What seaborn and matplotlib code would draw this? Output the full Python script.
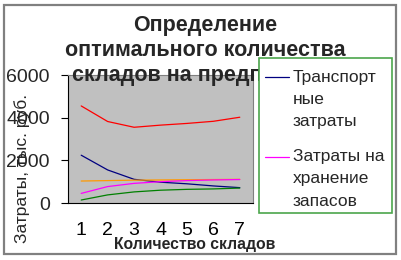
import matplotlib
matplotlib.use("Agg")
import matplotlib.pyplot as plt
from matplotlib.lines import Line2D
from matplotlib.patches import Rectangle
from matplotlib.legend_handler import HandlerLine2D
import numpy as np
import seaborn as sns
import pandas as pd

sns.set_theme(style="white")
plt.rcParams["font.family"] = ["Liberation Sans", "DejaVu Sans"]

# Number of warehouses and cost series (thousand rubles)
warehouses = [1, 2, 3, 4, 5, 6, 7]
total_costs = [4550, 3820, 3550, 3650, 3730, 3830, 4020]
transport_costs = [2240, 1550, 1110, 975, 900, 800, 720]
fixed_costs = [1030, 1050, 1070, 1080, 1090, 1100, 1110]
storage_costs = [450, 770, 920, 1000, 1050, 1080, 1100]
handling_costs = [140, 380, 520, 600, 640, 660, 700]

series_names = {
    "total": "Общие затраты",
    "transport": "Транспортные затраты",
    "fixed": "Постоянные затраты",
    "storage": "Затраты на хранение запасов",
    "handling": "Затраты на обработку",
}
legend_labels = ["Транспорт\nные\nзатраты", "Затраты на\nхранение\nзапасов"]

frames = []
for key, vals in [("total", total_costs), ("transport", transport_costs),
                  ("fixed", fixed_costs), ("storage", storage_costs),
                  ("handling", handling_costs)]:
    frames.append(pd.DataFrame({"n": warehouses, "cost": vals,
                                "series": series_names[key]}))
df = pd.concat(frames, ignore_index=True)

palette = {
    series_names["total"]: "#FF0000",
    series_names["transport"]: "#000080",
    series_names["fixed"]: "#FF9900",
    series_names["storage"]: "#FF00FF",
    series_names["handling"]: "#008000",
}


class FirstLineHandler(HandlerLine2D):
    """Legend key aligned with the first line of a multi-line label."""

    def __init__(self, shift, **kw):
        super().__init__(**kw)
        self.shift = shift

    def create_artists(self, legend, orig_handle, xdescent, ydescent,
                       width, height, fontsize, trans):
        artists = super().create_artists(legend, orig_handle, xdescent,
                                         ydescent, width, height, fontsize,
                                         trans)
        for a in artists:
            a.set_ydata(np.asarray(a.get_ydata(), dtype=float) + self.shift)
        return artists


W, H = 402, 260
fig = plt.figure(figsize=(W / 100, H / 100), dpi=100)
fig.patch.set_facecolor("white")
ax = fig.add_axes([68 / W, 1 - 203 / H, (253 - 68) / W, (203 - 75) / H])
ax.set_facecolor("#C0C0C0")

sns.lineplot(data=df, x="n", y="cost", hue="series", palette=palette,
             linewidth=0.9, legend=False, ax=ax)

ax.set_xlim(0.5, 7.5)
ax.set_ylim(0, 6000)
ax.set_yticks([0, 2000, 4000, 6000])
ax.set_xticks(warehouses)
ax.set_xticks([i + 0.5 for i in range(0, 8)], minor=True)
ax.tick_params(axis="x", which="major", length=0, labelsize=14, pad=14,
               colors="black")
ax.tick_params(axis="x", which="minor", length=5, width=0.8, color="black",
               direction="out")
ax.tick_params(axis="y", length=5, width=0.8, color="black", direction="out",
               labelsize=14, pad=8, left=True)
for s in ["left", "bottom"]:
    ax.spines[s].set_color("black")
    ax.spines[s].set_linewidth(0.8)
for s in ["top", "right"]:
    ax.spines[s].set_color("#808080")
    ax.spines[s].set_linewidth(0.8)

ax.set_xlabel("Количество складов", fontsize=11.3, fontweight="bold",
              labelpad=0)
ax.xaxis.set_label_coords(0.685, -0.265)
ax.set_ylabel("Затраты, тыс. руб.", fontsize=12.5)
ax.yaxis.set_label_coords(-0.205, 0.27)

fig.text(0.51, 1 - 15 / H,
         "Определение\nоптимального количества\nскладов на предприятии",
         ha="center", va="top", fontsize=15.5, fontweight="bold",
         linespacing=1.26, zorder=3)

# Legend box drawn as a plain white panel with a green border
fig.add_artist(Rectangle((259 / W, 1 - 213 / H), (392 - 259) / W,
                         (213 - 58) / H, transform=fig.transFigure,
                         facecolor="white", edgecolor="#4CA64C",
                         linewidth=1.2, zorder=4))

handles = [Line2D([], [], color="#000080", linewidth=0.9),
           Line2D([], [], color="#FF00FF", linewidth=0.9)]
leg = fig.legend(handles, legend_labels, loc="upper left",
                 bbox_to_anchor=(265 / W, 1 - 70 / H), frameon=False,
                 fontsize=12.5, handlelength=1.38, handletextpad=0.23,
                 borderpad=0, borderaxespad=0, labelspacing=1.14,
                 handler_map={Line2D: FirstLineHandler(shift=16.0)})
for t in leg.get_texts():
    t.set_linespacing(1.6)
leg.set_zorder(5)

fig.add_artist(Rectangle((4.5 / W, 1 - 254 / H), (396 - 4.5) / W,
                         (254 - 4.5) / H, transform=fig.transFigure,
                         fill=False, edgecolor="#808080", linewidth=1.6,
                         zorder=10))

fig.savefig("out.png", dpi=100, facecolor="white")
